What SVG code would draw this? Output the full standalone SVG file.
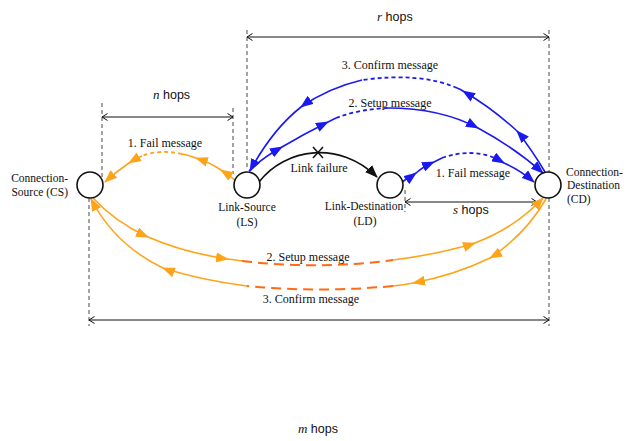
<svg xmlns="http://www.w3.org/2000/svg" width="637" height="441" viewBox="0 0 637 441">
<style>
.node{fill:#fff;stroke:#111;stroke-width:1.6}
.lbl{font-family:"Liberation Serif",serif;font-size:11.5px;fill:#111}
.msg{font-family:"Liberation Serif",serif;font-size:12px;fill:#111}
.hop{font-family:"Liberation Sans",sans-serif;font-size:12.5px;fill:#111}
.it{font-family:"Liberation Serif",serif;font-style:italic;font-size:13px}
.dim{stroke:#111;stroke-width:1;fill:none;marker-start:url(#open);marker-end:url(#open)}
.vd{stroke:#333;stroke-width:0.9;stroke-dasharray:4,3;fill:none}
.or{stroke:#FFA31A;stroke-width:1.6;fill:none}
.ord{stroke:#FF6A13;stroke-width:2;stroke-dasharray:10,6;fill:none}
.bl{stroke:#1A1AF0;stroke-width:1.6;fill:none}
.bld{stroke:#1A1AF0;stroke-width:1.8;stroke-dasharray:4,3;fill:none}
.omid{marker-mid:url(#ao)}
.oend{marker-end:url(#ao)}
.bmid{marker-mid:url(#ab)}
.bend{marker-end:url(#ab)}
</style>
<defs>
<marker id="open" viewBox="0 0 8 8" refX="6" refY="4" markerWidth="8" markerHeight="8" markerUnits="userSpaceOnUse" orient="auto-start-reverse">
<path d="M0.5,0.5 L6,4 L0.5,7.5" fill="none" stroke="#111" stroke-width="1"/>
</marker>
<marker id="ao" viewBox="0 0 13 10" refX="12" refY="5" markerWidth="13" markerHeight="10" markerUnits="userSpaceOnUse" orient="auto">
<path d="M0,0 L13,5 L0,10 z" fill="#FFA31A"/>
</marker>
<marker id="ab" viewBox="0 0 13 10" refX="12" refY="5" markerWidth="13" markerHeight="10" markerUnits="userSpaceOnUse" orient="auto">
<path d="M0,0 L13,5 L0,10 z" fill="#1A1AF0"/>
</marker>
<marker id="ak" viewBox="0 0 13 10" refX="12" refY="5" markerWidth="13" markerHeight="10" markerUnits="userSpaceOnUse" orient="auto">
<path d="M0,0 L13,5 L0,10 z" fill="#111"/>
</marker>
</defs>

<g id="guides">
<path class="vd" d="M102,103 V178"/>
<path class="vd" d="M233,108 V174"/>
<path class="vd" d="M247,30 V168"/>
<path class="vd" d="M549,30 V172"/>
<path class="vd" d="M549,198 V326"/>
<path class="vd" d="M89,198 V326"/>
<path class="vd" d="M405,190 V212"/>
</g>

<g id="dimensions">
<path class="dim" d="M102,117 H233"/>
<path class="dim" d="M247,37 H549"/>
<path class="dim" d="M405,202 H537"/>
<path class="dim" d="M89,320 H549"/>
<text class="hop" x="153" y="99"><tspan class="it">n</tspan> hops</text>
<text class="hop" x="377" y="21"><tspan class="it">r</tspan> hops</text>
<text class="hop" x="453" y="214"><tspan class="it">s</tspan> hops</text>
<text class="hop" x="298" y="433"><tspan class="it">m</tspan> hops</text>
</g>

<g id="connectors">
<!-- orange fail LS -> CS -->
<path class="or omid" d="M236,181 Q229,175 221,170 Q209,162 196,158 Q188,155 182,154"/>
<path class="ord" style="stroke:#FFA31A;stroke-dasharray:4,3;stroke-width:1.8" d="M182,154 Q160,149 142,156"/>
<path class="or omid oend" d="M142,156 Q136,159 129,163 Q117,171 105,182"/>
<!-- link failure -->
<path d="M259,182 C285,148 340,140 377,177" fill="none" stroke="#111" stroke-width="1.6" marker-end="url(#ak)"/>
<path d="M313,147 L323,158 M323,147 L313,158" stroke="#111" stroke-width="1.5"/>
<!-- blue fail LD -> CD -->
<path class="bl bmid" d="M402,182 Q408,178 416,173 Q424,166 434,162 Q438,160 442,158"/>
<path class="bld" d="M442,158 Q470,148 495,158"/>
<path class="bl bmid bend" d="M495,158 Q500,160 504,163 Q520,170 534,182"/>
<!-- blue setup LS -> CD -->
<path class="bl bmid" d="M249,171 Q262,158 282,147 Q304,134 328,122 Q332,120 336,118"/>
<path class="bld" d="M336,118 Q360,109 388,108"/>
<path class="bl bmid bend" d="M388,108 Q440,108 478,128 Q515,148 543,173"/>
<!-- blue confirm CD -> LS -->
<path class="bl bmid" d="M545,172 Q532,150 517,131 Q492,108 463,91 Q460,89 457,88"/>
<path class="bld" d="M457,88 Q420,72 362,80"/>
<path class="bl bmid bend" d="M362,80 Q328,88 301,107 Q272,130 250,171"/>
<!-- orange setup CS -> CD -->
<path class="or omid" d="M93,198 Q115,222 148,237 Q185,253 228,259 Q236,260 242,261"/>
<path class="ord" d="M242,261 Q320,270 393,260"/>
<path class="or omid oend" d="M393,260 Q440,254 475,243 Q515,228 543,198"/>
<!-- orange confirm CD -> CS -->
<path class="or omid" d="M546,199 Q525,235 490,258 Q455,275 413,283 Q403,285 393,286"/>
<path class="ord" d="M393,286 Q320,293 247,286"/>
<path class="or omid oend" d="M247,286 Q200,280 163,268 Q115,245 91,199"/>
</g>

<g id="labels">
<text class="msg" x="165" y="147" text-anchor="middle">1. Fail message</text>
<text class="msg" x="390" y="69" text-anchor="middle">3. Confirm message</text>
<text class="msg" x="390" y="107" text-anchor="middle">2. Setup message</text>
<text class="msg" x="319" y="172" text-anchor="middle">Link failure</text>
<text class="msg" x="473" y="177" text-anchor="middle">1. Fail message</text>
<text class="msg" x="308" y="261" text-anchor="middle">2. Setup message</text>
<text class="msg" x="311" y="303" text-anchor="middle">3. Confirm message</text>
</g>

<g id="CS">
<circle class="node" cx="90" cy="185" r="13"/>
<text class="lbl" x="68" y="182" text-anchor="end">Connection-</text>
<text class="lbl" x="68" y="196" text-anchor="end">Source (CS)</text>
</g>
<g id="LS">
<circle class="node" cx="247" cy="185" r="13"/>
<text class="lbl" x="247" y="211" text-anchor="middle">Link-Source</text>
<text class="lbl" x="247" y="226" text-anchor="middle">(LS)</text>
</g>
<g id="LD">
<circle class="node" cx="390" cy="185" r="13"/>
<text class="lbl" x="364" y="210" text-anchor="middle">Link-Destination</text>
<text class="lbl" x="365" y="225" text-anchor="middle">(LD)</text>
</g>
<g id="CD">
<circle class="node" cx="548" cy="185" r="13"/>
<text class="lbl" x="566" y="176">Connection-</text>
<text class="lbl" x="567" y="189">Destination</text>
<text class="lbl" x="567" y="203">(CD)</text>
</g>
</svg>
